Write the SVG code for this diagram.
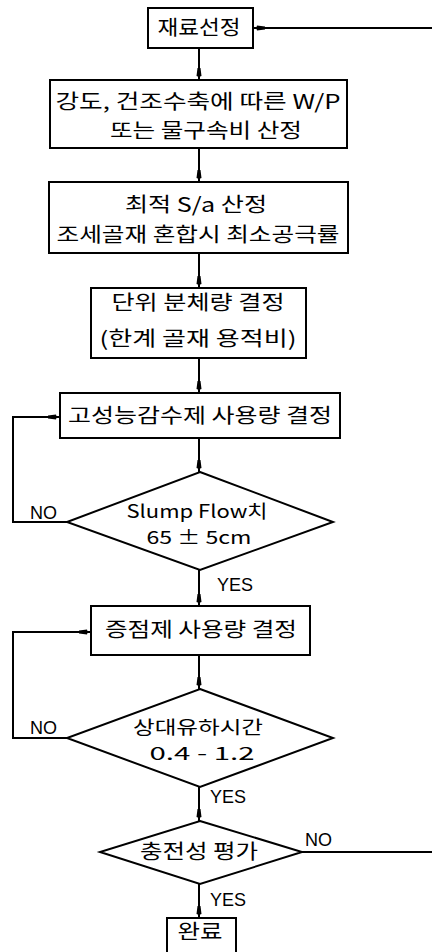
<svg xmlns="http://www.w3.org/2000/svg" width="432" height="952" viewBox="0 0 432 952">
<style>
.box{fill:#fff;stroke:#000;stroke-width:2}
.t{font-family:"Noto Sans CJK KR","Liberation Sans",sans-serif;font-size:20px;fill:#000;text-anchor:middle}
.d{font-size:18px}
.l{font-family:"Liberation Sans","Noto Sans CJK KR",sans-serif;font-size:18px;fill:#000}
.c{fill:none;stroke:#000;stroke-width:2}
</style>
<defs>
<marker id="a" markerWidth="12" markerHeight="8" refX="12" refY="3" orient="auto" markerUnits="userSpaceOnUse">
<path d="M0,1.5 L8,0.5 Q9.5,3 8,5.5 L0,4.5 z" fill="#000"/>
</marker>
</defs>
<g id="connectors">
<path class="c" d="M199,48 V80" marker-end="url(#a)"/>
<path class="c" d="M199,148 V182" marker-end="url(#a)"/>
<path class="c" d="M199,253 V288" marker-end="url(#a)"/>
<path class="c" d="M199,358 V393" marker-end="url(#a)"/>
<path class="c" d="M199,438 V472" marker-end="url(#a)"/>
<path class="c" d="M199,570 V606" marker-end="url(#a)"/>
<path class="c" d="M199,655 V689" marker-end="url(#a)"/>
<path class="c" d="M199,787 V821" marker-end="url(#a)"/>
<path class="c" d="M199,884 V918" marker-end="url(#a)"/>
<path class="c" d="M67,522 H13 V417 H60" marker-end="url(#a)"/>
<path class="c" d="M67,738 H13 V632 H91" marker-end="url(#a)"/>
<path class="c" d="M302,852 H436 V28 H253" marker-end="url(#a)"/>
<text class="l" x="30" y="519">NO</text>
<text class="l" x="217" y="591">YES</text>
<text class="l" x="30" y="734">NO</text>
<text class="l" x="210" y="803">YES</text>
<text class="l" x="305" y="846">NO</text>
<text class="l" x="210" y="906">YES</text>
</g>
<g id="n1"><rect class="box" x="148" y="8" width="105" height="40"/><text class="t" x="199" y="35" textLength="83" lengthAdjust="spacingAndGlyphs">재료선정</text></g>
<g id="n2"><rect class="box" x="50" y="80" width="297" height="68"/><text class="t" x="198" y="109" textLength="285" lengthAdjust="spacingAndGlyphs">강도, 건조수축에 따른 W/P</text><text class="t" x="206" y="138" textLength="192" lengthAdjust="spacingAndGlyphs">또는 물구속비 산정</text></g>
<g id="n3"><rect class="box" x="49" y="182" width="299" height="71"/><text class="t" x="196" y="212" textLength="142" lengthAdjust="spacingAndGlyphs">최적 S/a 산정</text><text class="t" x="198" y="242" textLength="283" lengthAdjust="spacingAndGlyphs">조세골재 혼합시 최소공극률</text></g>
<g id="n4"><rect class="box" x="91" y="288" width="215" height="70"/><text class="t" x="198" y="310" textLength="173" lengthAdjust="spacingAndGlyphs">단위 분체량 결정</text><text class="t" x="198" y="346" textLength="197" lengthAdjust="spacingAndGlyphs">(한계 골재 용적비)</text></g>
<g id="n5"><rect class="box" x="60" y="393" width="280" height="45"/><text class="t" x="200" y="423" textLength="264" lengthAdjust="spacingAndGlyphs">고성능감수제 사용량 결정</text></g>
<g id="d1"><polygon class="box" points="200,472 333,522 200,570 67,522"/><text class="t d" x="197" y="518" textLength="141" lengthAdjust="spacingAndGlyphs">Slump Flow치</text><text class="t d" x="199" y="544" textLength="105" lengthAdjust="spacingAndGlyphs">65 ± 5cm</text></g>
<g id="n6"><rect class="box" x="91" y="606" width="219" height="49"/><text class="t" x="201" y="637" textLength="192" lengthAdjust="spacingAndGlyphs">증점제 사용량 결정</text></g>
<g id="d2"><polygon class="box" points="200,689 333,738 200,787 67,738"/><text class="t d" x="198" y="734" textLength="130" lengthAdjust="spacingAndGlyphs">상대유하시간</text><text class="t d" x="202" y="760" textLength="105" lengthAdjust="spacingAndGlyphs">0.4 - 1.2</text></g>
<g id="d3"><polygon class="box" points="200,821 302,852 200,884 100,852"/><text class="t" x="199" y="859" textLength="118" lengthAdjust="spacingAndGlyphs">충전성 평가</text></g>
<g id="n7"><rect class="box" x="167" y="918" width="69" height="40"/><text class="t" x="200" y="939" textLength="45" lengthAdjust="spacingAndGlyphs">완료</text></g>
</svg>
